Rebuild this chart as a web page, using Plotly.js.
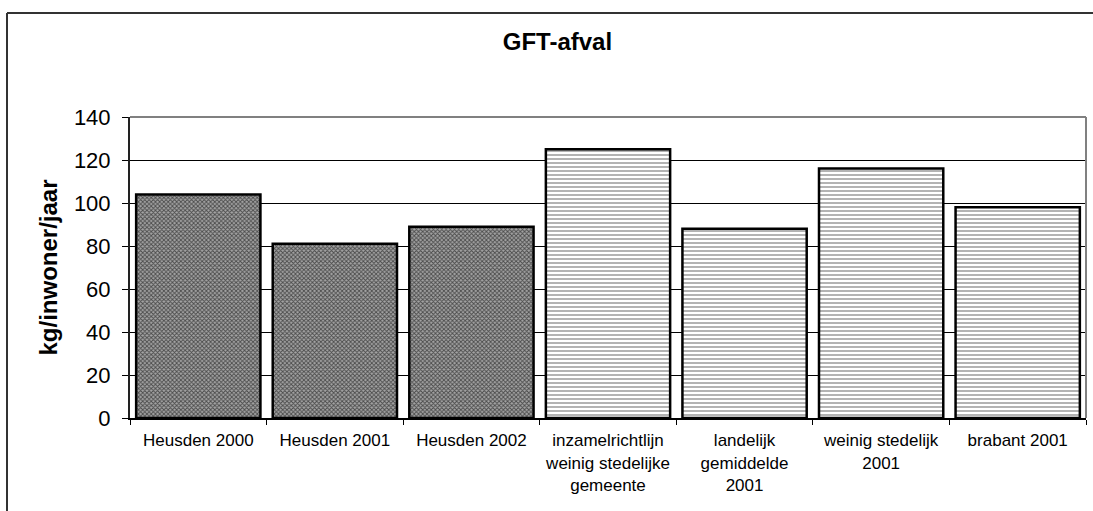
<!DOCTYPE html>
<html>
<head>
<meta charset="utf-8">
<script src="https://cdn.plot.ly/plotly-3.0.1.min.js"></script>
<style>
  html, body { margin: 0; padding: 0; background: #fff; overflow: hidden; }
  #chart { width: 1093px; height: 511px; }
</style>
</head>
<body>
<div id="chart"></div>
<script>
const heusdenCats = ["Heusden 2000", "Heusden 2001", "Heusden 2002"];
const heusdenVals = [104, 81, 89];
const refCats = [
  "inzamelrichtlijn<br>weinig stedelijke<br>gemeente",
  "landelijk<br>gemiddelde<br>2001",
  "weinig stedelijk<br>2001",
  "brabant 2001"
];
const refVals = [125, 88, 116, 98];
const yTicks = [0, 20, 40, 60, 80, 100, 120, 140];

const W = 1093, H = 511;
const M = { l: 130, r: 7, t: 117, b: 93 };
const pw = W - M.l - M.r, ph = H - M.t - M.b;
const px2x = p => (p - M.l) / pw;
const px2y = p => 1 - (p - M.t) / ph;

const darkTrace = {
  type: "bar",
  x: heusdenCats,
  y: heusdenVals,
  marker: {
    color: "#9a9a9a",
    line: { color: "#000", width: 2.5 },
    pattern: { shape: "x", fgcolor: "#4a4a4a", bgcolor: "#a4a4a4", size: 3, solidity: 0.5, fillmode: "replace" }
  }
};
const lightTrace = {
  type: "bar",
  x: refCats,
  y: refVals,
  marker: {
    color: "#ffffff",
    line: { color: "#000", width: 2.5 },
    pattern: { shape: "-", fgcolor: "#a0a0a0", bgcolor: "#ffffff", size: 4, solidity: 0.4, fillmode: "replace" }
  }
};

const layout = {
  width: W,
  height: H,
  margin: M,
  paper_bgcolor: "#fff",
  plot_bgcolor: "#fff",
  showlegend: false,
  barmode: "overlay",
  bargap: 0.09,
  font: { family: "Arial, 'Liberation Sans', sans-serif", color: "#000" },
  title: {
    text: "<b>GFT-afval</b>",
    font: { size: 24, family: "Arial, 'Liberation Sans', sans-serif", color: "#000" },
    xref: "container", x: 0.51, xanchor: "center",
    yref: "container", y: 0.918, yanchor: "middle"
  },
  xaxis: {
    type: "category",
    categoryorder: "array",
    categoryarray: heusdenCats.concat(refCats),
    showgrid: false,
    showline: true, linecolor: "#000", linewidth: 2,
    ticks: "outside", tickson: "boundaries", ticklen: 5, tickcolor: "#000", tickwidth: 1,
    tickfont: { size: 17, color: "#000" },
    ticklabelstandoff: 6,
    fixedrange: true
  },
  yaxis: {
    range: [0, 140],
    tickvals: yTicks,
    ticktext: yTicks.map(String),
    showgrid: true, gridcolor: "#000", gridwidth: 1,
    zeroline: false,
    showline: true, linecolor: "#222", linewidth: 2,
    ticks: "outside", ticklen: 6, tickcolor: "#000", tickwidth: 1,
    tickfont: { size: 22, color: "#000" },
    ticklabelstandoff: 7,
    fixedrange: true
  },
  annotations: [{
    text: "<b>kg/inwoner/jaar</b>",
    textangle: -90,
    xref: "paper", yref: "paper",
    x: px2x(48), y: 0.5,
    xanchor: "center", yanchor: "middle",
    showarrow: false,
    font: { size: 24, color: "#000" }
  }],
  shapes: [
    { type: "line", xref: "paper", yref: "paper", x0: 0, x1: 1, y0: 1, y1: 1,
      line: { color: "#808080", width: 2 }, layer: "above" },
    { type: "line", xref: "paper", yref: "paper", x0: 1, x1: 1, y0: 0, y1: 1,
      line: { color: "#808080", width: 2 }, layer: "above" },
    { type: "line", xref: "paper", yref: "paper", x0: px2x(7), x1: px2x(1093), y0: px2y(13), y1: px2y(13),
      line: { color: "#333", width: 2 } },
    { type: "line", xref: "paper", yref: "paper", x0: px2x(7), x1: px2x(7), y0: px2y(13), y1: px2y(511),
      line: { color: "#333", width: 2 } }
  ]
};

Plotly.newPlot("chart", [darkTrace, lightTrace], layout, { displayModeBar: false, staticPlot: true });
</script>
</body>
</html>
